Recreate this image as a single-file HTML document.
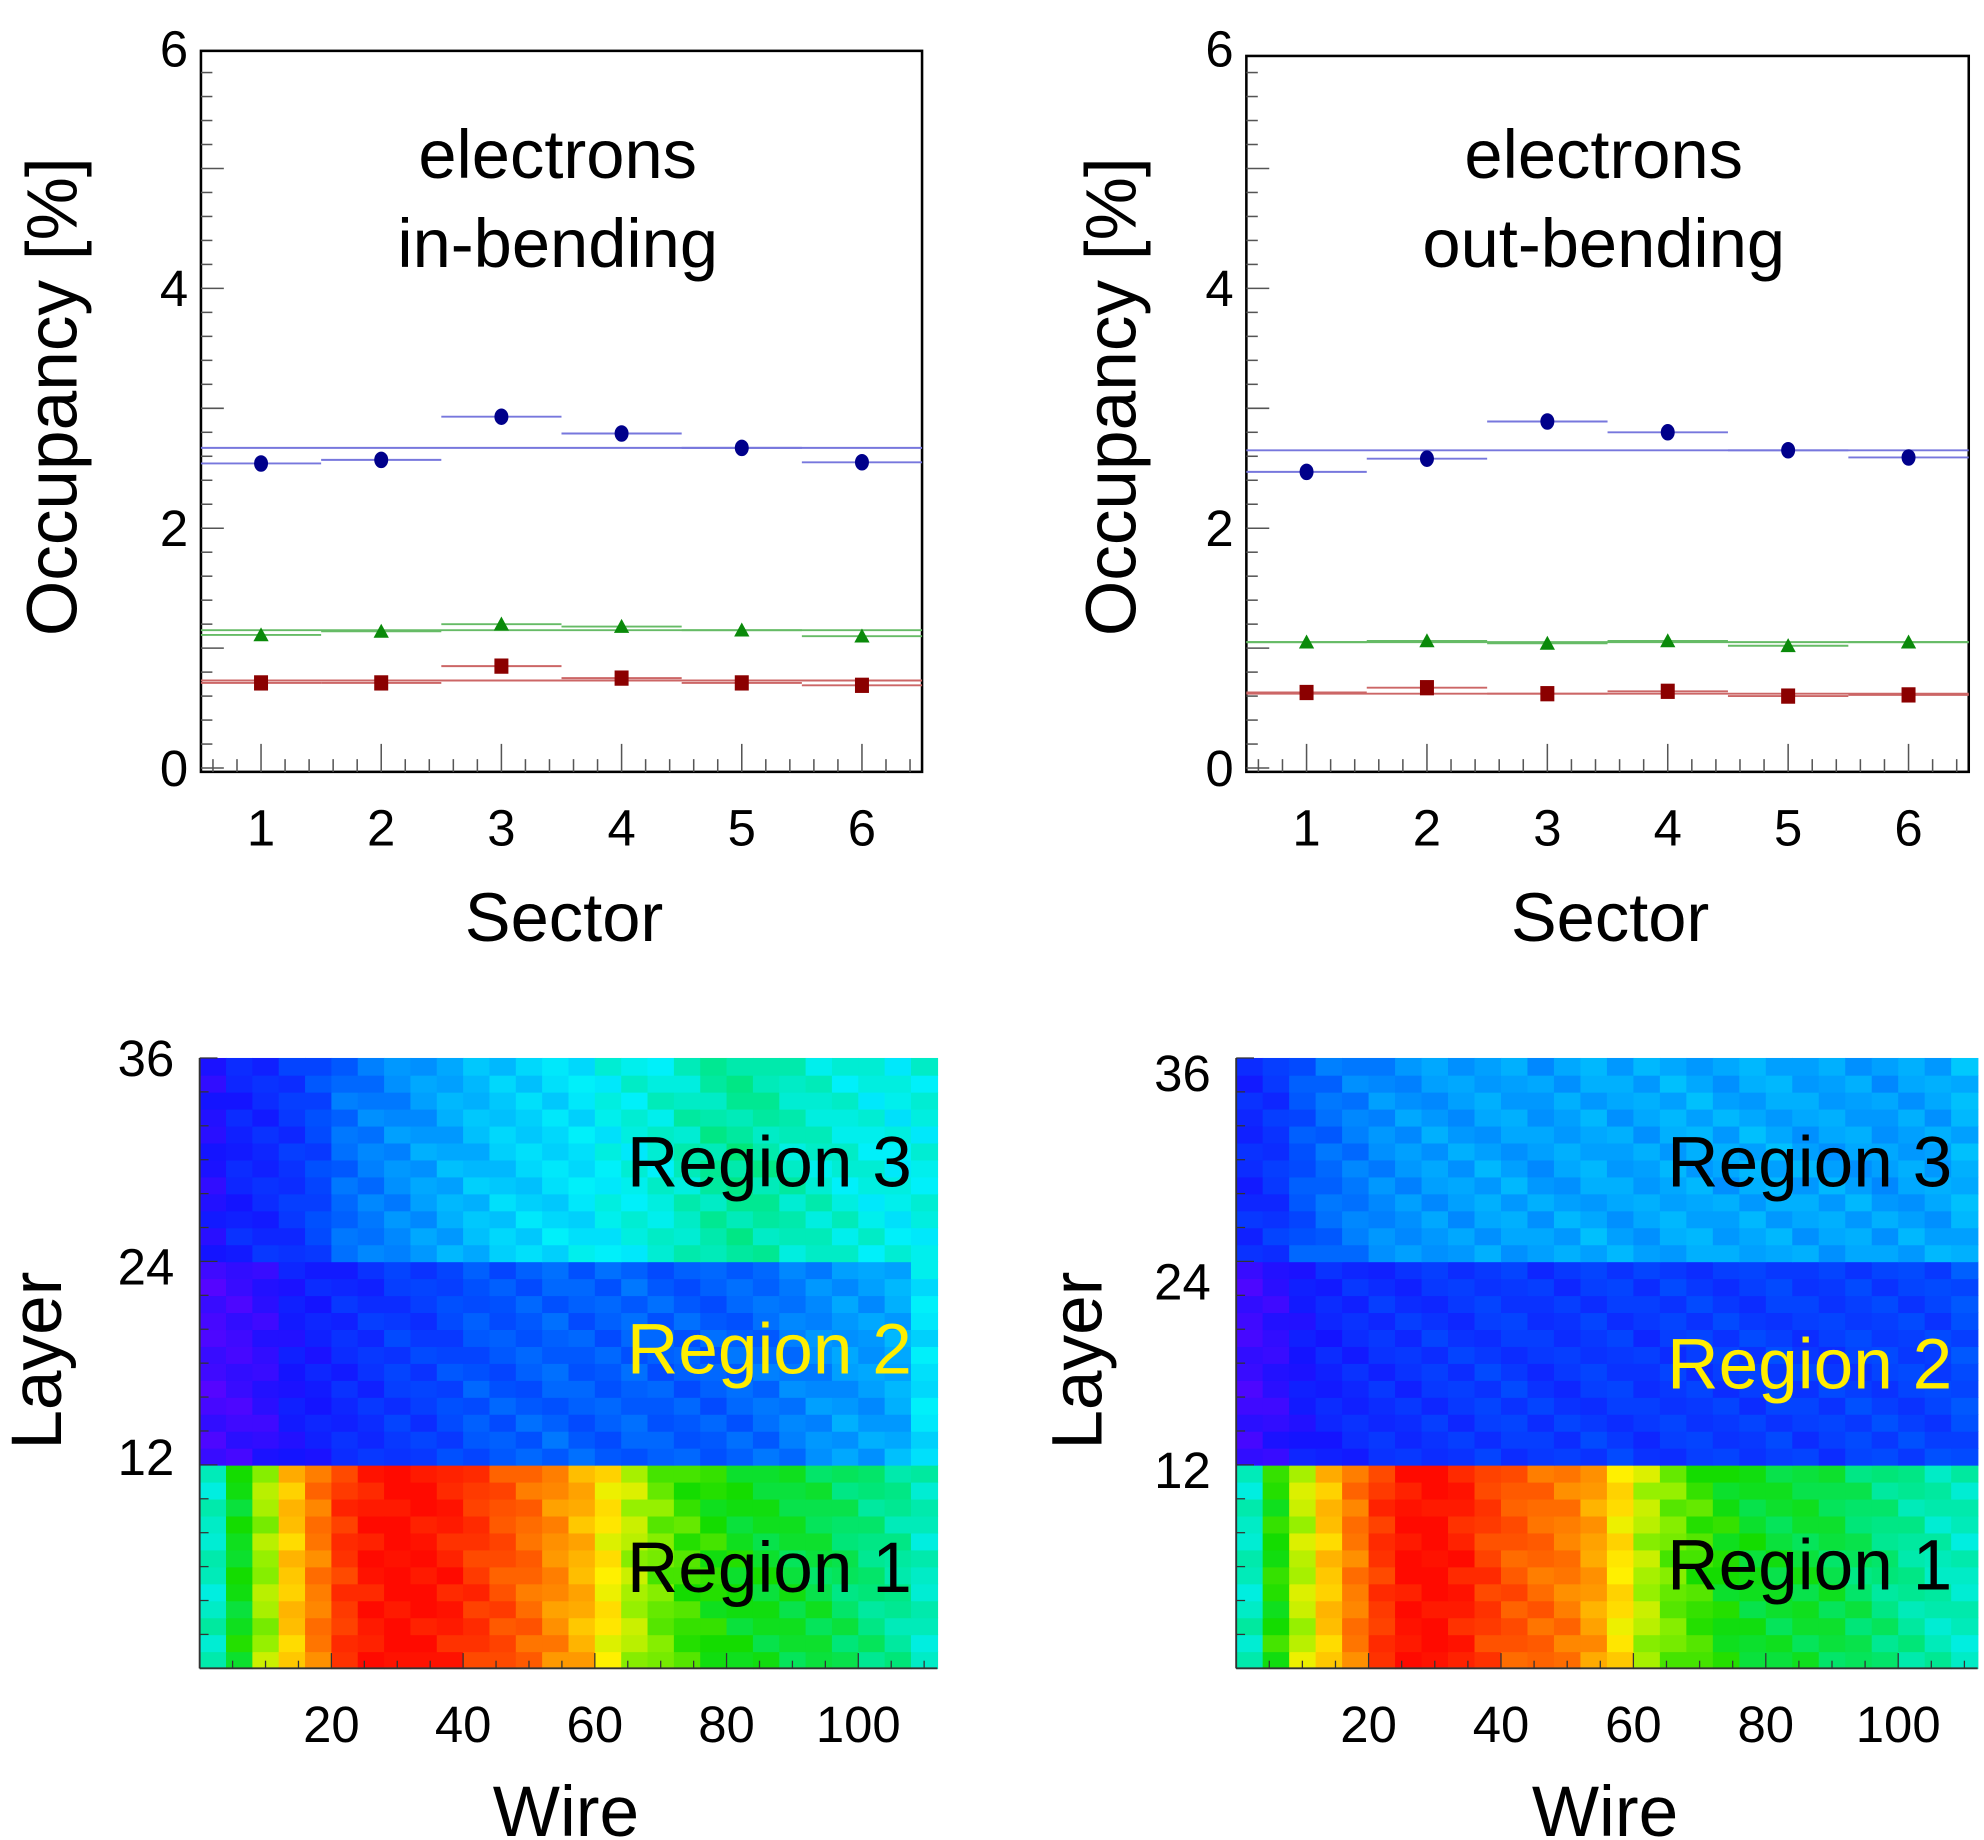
<!DOCTYPE html>
<html><head><meta charset="utf-8"><style>
html,body{margin:0;padding:0;background:#fff;}
svg{display:block;font-family:"Liberation Sans",sans-serif;}
</style></head><body>
<svg id="fig" width="1984" height="1840" viewBox="0 0 1560 1447" preserveAspectRatio="none" xmlns="http://www.w3.org/2000/svg"></svg>
<script>
// ---- Occupancy data (in-bending) ----
const sectors = [1,2,3,4,5,6];
const inBlue  = [2.54,2.57,2.93,2.79,2.67,2.55];
const inGreen = [1.11,1.14,1.20,1.18,1.15,1.10];
const inRed   = [0.71,0.71,0.85,0.75,0.71,0.69];
const inFit   = [2.67,1.15,0.73];
// ---- Occupancy data (out-bending) ----
const outBlue  = [2.47,2.58,2.89,2.80,2.65,2.59];
const outGreen = [1.05,1.06,1.04,1.06,1.02,1.05];
const outRed   = [0.63,0.67,0.62,0.64,0.60,0.61];
const outFit   = [2.65,1.05,0.62];
const yTicks = [0,2,4,6];
const wireTicks = [20,40,60,80,100];
const layerTicks = [12,24,36];
// ---- Heatmap profiles: value (0..1) per 4-wire column, 28 columns, per region ----
const inR1  = [0.46,0.58,0.68,0.78,0.86,0.94,0.98,1.00,0.99,0.97,0.94,0.91,0.88,0.84,0.80,0.74,0.69,0.65,0.62,0.60,0.58,0.57,0.56,0.55,0.53,0.51,0.49,0.46];
const inR2  = [0.05,0.06,0.08,0.12,0.13,0.15,0.16,0.18,0.18,0.20,0.22,0.22,0.23,0.24,0.23,0.23,0.24,0.23,0.23,0.23,0.24,0.25,0.27,0.29,0.31,0.31,0.33,0.40];
const inR3  = [0.10,0.14,0.15,0.17,0.20,0.25,0.27,0.29,0.31,0.33,0.35,0.37,0.38,0.39,0.40,0.42,0.43,0.44,0.46,0.48,0.49,0.48,0.46,0.45,0.44,0.43,0.42,0.43];
const outR1 = [0.46,0.60,0.70,0.78,0.86,0.94,0.99,1.00,0.97,0.93,0.90,0.88,0.86,0.82,0.75,0.69,0.65,0.62,0.59,0.57,0.56,0.56,0.55,0.53,0.51,0.49,0.47,0.46];
const outR2 = [0.06,0.08,0.12,0.14,0.15,0.16,0.16,0.17,0.17,0.18,0.18,0.17,0.17,0.18,0.18,0.17,0.18,0.18,0.18,0.18,0.19,0.18,0.18,0.19,0.19,0.19,0.19,0.21];
const outR3 = [0.15,0.17,0.22,0.25,0.27,0.29,0.30,0.31,0.31,0.32,0.32,0.31,0.32,0.33,0.32,0.32,0.33,0.33,0.32,0.33,0.33,0.32,0.32,0.32,0.31,0.32,0.32,0.34];
// per-layer small variation within region (12 layers)
const layerMod = [0.02,-0.01,0.03,0.00,-0.02,0.01,0.02,-0.01,0.00,0.02,-0.02,0.01];

const NS="http://www.w3.org/2000/svg";
const svg=document.getElementById('fig');
function el(tag,attrs,parent){const e=document.createElementNS(NS,tag);for(const k in attrs)e.setAttribute(k,attrs[k]);(parent||svg).appendChild(e);return e;}
function txt(s,attrs,parent){const e=el('text',attrs,parent);e.textContent=s;return e;}

function occPlot(cfg){
  const g=el('g',{});
  
  
  const L=cfg.left,R=cfg.right,T=cfg.top,B=cfg.bottom;
  const x=v=>L+(v-0.5)/6*(R-L);
  const y=v=>cfg.y0-(v)*cfg.ppu;
  const fr=el('rect',{x:L,y:T,width:R-L,height:B-T,fill:'none',stroke:'#000','stroke-width':2},g);
  
  for(let i=0;i<=30;i++){const v=i*0.2;if(y(v)<T)break;const len=(i%5===0)?18:9;
    el('line',{x1:L,x2:L+len,y1:y(v),y2:y(v),stroke:'#555','stroke-width':1.2},g);}
  for(const t of yTicks){const lb=txt(String(t),{x:L-10,y:y(t)+14,'font-size':40,'text-anchor':'end'},g);
    }
  for(let k=0;k<30;k++){const v=0.6+k*0.2;if(v>6.45)break;const major=Math.abs(v-Math.round(v))<0.01;
    el('line',{x1:x(v),x2:x(v),y1:B,y2:B-(major?22:10),stroke:'#555','stroke-width':1.2},g);}
  sectors.forEach(s=>{const lb=txt(String(s),{x:x(s),y:B+58,'font-size':40,'text-anchor':'middle'},g);
    });
  const lcol=['#7777dd','#66bb66','#cc6666'];
  const series=[cfg.blue,cfg.green,cfg.red];
  series.forEach((arr,si)=>{
    const fl=el('line',{x1:x(0.5),x2:x(6.5),y1:y(cfg.fit[si]),y2:y(cfg.fit[si]),stroke:lcol[si],'stroke-width':1.5},g);
    
    arr.forEach((v,i)=>{
      const s=sectors[i];
      el('line',{x1:x(s-0.5),x2:x(s+0.5),y1:y(v),y2:y(v),stroke:lcol[si],'stroke-width':1.5},g);
      let m;
      if(si===0) m=el('ellipse',{cx:x(s),cy:y(v),rx:5.5,ry:6.5,fill:'#00008b'},g);
      else if(si===1) m=el('polygon',{points:`${x(s)-6},${y(v)+5} ${x(s)+6},${y(v)+5} ${x(s)},${y(v)-6}`,fill:'#0a8a0a'},g);
      else m=el('rect',{x:x(s)-5.5,y:y(v)-6,width:11,height:12,fill:'#8b0000'},g);
      
    });
  });
  const cx=(L+R)/2-3;
  const t1=txt('electrons',{x:cx,y:140,'font-size':54,'text-anchor':'middle'},g);
  
  const t2=txt(cfg.sub,{x:cx,y:210,'font-size':54,'text-anchor':'middle'},g);
  
  const xt=txt('Sector',{x:cx+5,y:740,'font-size':54,'text-anchor':'middle'},g);
  
  const yt=txt('Occupancy [%]',{x:0,y:0,'font-size':56,'text-anchor':'middle',transform:`translate(${cfg.ytx},312) rotate(-90)`},g);
  
}
occPlot({name:'occupancy-in-bending',left:158,right:725,top:40,bottom:607,y0:604,ppu:94.3,blue:inBlue,green:inGreen,red:inRed,fit:inFit,sub:'in-bending',ytx:60});
occPlot({name:'occupancy-out-bending',left:980,right:1548,top:44,bottom:607,y0:604,ppu:94.3,blue:outBlue,green:outGreen,red:outRed,fit:outFit,sub:'out-bending',ytx:893});

const stops=[[0,[106,0,255]],[0.12,[20,20,255]],[0.22,[0,80,255]],[0.32,[0,160,255]],[0.42,[0,240,250]],[0.52,[0,230,120]],[0.6,[20,220,0]],[0.68,[150,240,0]],[0.74,[255,240,0]],[0.8,[255,180,0]],[0.9,[255,90,0]],[1,[255,10,0]]];
function cmap(v){v=Math.max(0,Math.min(1,v));for(let i=1;i<stops.length;i++){if(v<=stops[i][0]){const a=stops[i-1],b=stops[i];const t=(v-a[0])/(b[0]-a[0]);const c=a[1].map((q,k)=>Math.round(q+(b[1][k]-q)*t));return `rgb(${c})`;}}return 'rgb(255,10,0)';}

function heat(cfg){
  const g=el('g',{});
  
  const L=cfg.left,R=cfg.right,T=832,B=1312;
  const xw=w=>L+w/112*(R-L);
  const yl=l=>B-l/36*(B-T);
  const regs=[cfg.r1,cfg.r2,cfg.r3];
  regs.forEach((prof,ri)=>{
    for(let l=0;l<12;l++){
      prof.forEach((v,c)=>{
        const r=el('rect',{x:xw(c*4),y:yl(ri*12+l+1),width:xw(c*4+4)-xw(c*4)+0.6,height:yl(0)-yl(1)+0.6,fill:cmap(v+layerMod[(l+c)%12])},g);
        
      });
    }
  });
  el('line',{x1:L,x2:L,y1:T,y2:B,stroke:'#333','stroke-width':1.5},g);
  el('line',{x1:L,x2:R,y1:B,y2:B,stroke:'#333','stroke-width':1.5},g);
  for(let l=0;l<=36;l+=2) el('line',{x1:L,x2:L+(l%12===0?14:7),y1:yl(l),y2:yl(l),stroke:'#333','stroke-width':1},g);
  for(let w=5;w<=110;w+=5) el('line',{x1:xw(w),x2:xw(w),y1:B,y2:B-(w%20===0?12:6),stroke:'#333','stroke-width':1},g);
  wireTicks.forEach(w=>{const t=txt(String(w),{x:xw(w),y:1370,'font-size':40,'text-anchor':'middle'},g);
    });
  layerTicks.forEach((l,i)=>{const t=txt(String(l),{x:L-20,y:cfg.lblY[i],'font-size':40,'text-anchor':'end'},g);
    });
  const names=['Region 3','Region 2','Region 1'];const cs=['#000','#ffee00','#000'];
  names.forEach((n,i)=>{const t=txt(n,{x:R-20,y:cfg.regY[i],'font-size':56,'text-anchor':'end',fill:cs[i]},g);
    });
  const xt=txt('Wire',{x:cfg.wireX,y:1444,'font-size':56,'text-anchor':'middle'},g);
  
  const yt=txt('Layer',{x:0,y:0,'font-size':56,'text-anchor':'middle',transform:`translate(${cfg.layX},1070) rotate(-90)`},g);
  
}
heat({name:'heatmap-in-bending',left:157,right:737,r1:inR1,r2:inR2,r3:inR3,lblY:[1160,1010,846],regY:[933,1080,1252],wireX:445,layX:48});
heat({name:'heatmap-out-bending',left:972,right:1555,r1:outR1,r2:outR2,r3:outR3,lblY:[1170,1022,858],regY:[933,1092,1250],wireX:1262,layX:866});
</script>
</body></html>
